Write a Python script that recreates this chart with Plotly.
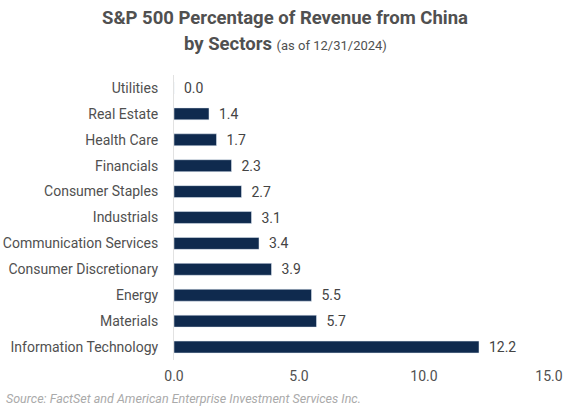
import plotly.graph_objects as go

sectors = ["Utilities", "Real Estate", "Health Care", "Financials", "Consumer Staples",
           "Industrials", "Communication Services", "Consumer Discretionary", "Energy",
           "Materials", "Information Technology"]
values = [0.0, 1.4, 1.7, 2.3, 2.7, 3.1, 3.4, 3.9, 5.5, 5.7, 12.2]
x_ticks = [0, 5, 10, 15]
x_tick_labels = ["0.0", "5.0", "10.0", "15.0"]

W, H = 569, 408
ML, MR, MT, MB = 174, 20, 75, 48
PW, PH = W - ML - MR, H - MT - MB


def px(x):
    return (x - ML) / PW


def py(y):
    return (H - MB - y) / PH


FONT = "Roboto"
GRAY = "#505050"
fig = go.Figure(go.Bar(
    x=values, y=sectors, orientation="h",
    marker=dict(color="#0f2a4e"),
    width=0.46,
    text=values, texttemplate="  %{x:.1f}", textposition="outside",
    constraintext="none",
    textfont=dict(family=FONT, size=14, color="#444444"),
    cliponaxis=False,
))

fig.update_layout(
    width=W, height=H,
    margin=dict(l=ML, r=MR, t=MT, b=MB, autoexpand=False),
    paper_bgcolor="white", plot_bgcolor="white",
    showlegend=False,
    font=dict(family=FONT, color=GRAY),
    xaxis=dict(
        range=[0, 15], tickvals=x_ticks, ticktext=x_tick_labels,
        showgrid=False, zeroline=False, showline=False, automargin=False,
        tickfont=dict(family=FONT, size=14, color=GRAY),
        ticklabelstandoff=6, fixedrange=True,
    ),
    yaxis=dict(
        autorange="reversed", showgrid=False, zeroline=False, automargin=False,
        showline=True, linecolor="#e2e2e2", linewidth=1,
        tickfont=dict(family=FONT, size=14, color=GRAY),
        ticklabelstandoff=12,
    ),
    annotations=[
        dict(text="<b>S&P 500 Percentage of Revenue from China</b>",
             xref="paper", yref="paper", x=px(285), y=py(18),
             xanchor="center", yanchor="middle", showarrow=False,
             font=dict(family=FONT, size=18.5, color=GRAY)),
        dict(text="<b>by Sectors</b> <span style='font-size:13px'>(as of 12/31/2024)</span>",
             xref="paper", yref="paper", x=px(285), y=py(44),
             xanchor="center", yanchor="middle", showarrow=False,
             font=dict(family=FONT, size=18.5, color=GRAY)),
        dict(text="<i>Source: FactSet and American Enterprise Investment Services Inc.</i>",
             xref="paper", yref="paper", x=px(4), y=py(398),
             xanchor="left", yanchor="middle", showarrow=False,
             font=dict(family=FONT, size=12.5, color="#aaaaaa")),
    ],
)

fig.write_html("out.html")
